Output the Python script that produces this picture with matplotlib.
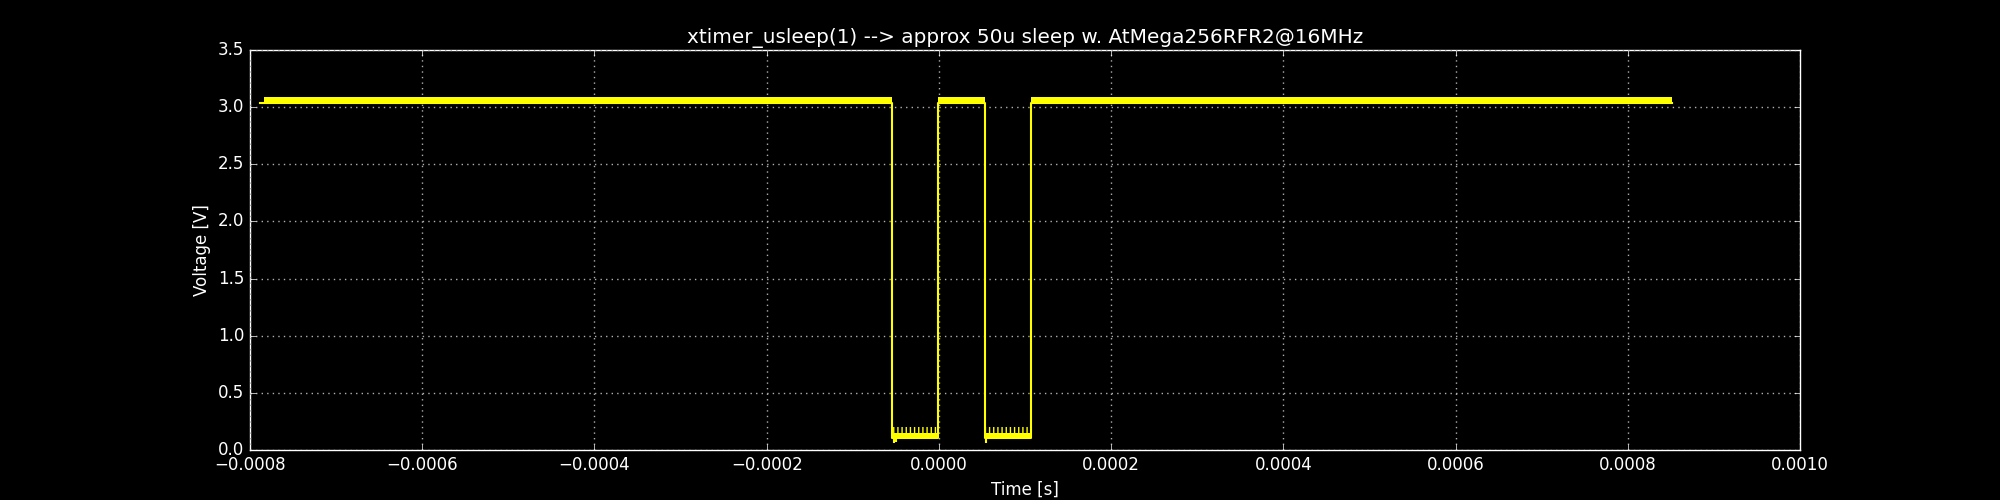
import matplotlib
matplotlib.use('Agg')
import matplotlib.pyplot as plt

seg_start = [-0.000788, -0.000784, -0.0000540, -0.0000011, 0.0000535, 0.0001064]
seg_end = [-0.000784, -0.0000540, -0.0000011, 0.0000535, 0.0001064, 0.000851]
seg_low = [3.035, 3.040, 0.108, 3.035, 0.108, 3.040]   # bottom of the noise band
seg_core = [3.035, 3.085, 0.150, 3.085, 0.150, 3.085]  # top of the solid band
seg_spike = [3.035, 3.090, 0.200, 3.090, 0.200, 3.090]  # tips of the noise spikes

# a few dropouts at the start of the low phases
dip_t = [-0.0000525, -0.0000495, 0.0000545]
dip_v = [0.065, 0.070, 0.065]

x_ticks = [-0.0008, -0.0006, -0.0004, -0.0002, 0.0, 0.0002, 0.0004, 0.0006, 0.0008, 0.0010]
y_ticks = [0.0, 0.5, 1.0, 1.5, 2.0, 2.5, 3.0, 3.5]

plt.style.use('classic')

fig = plt.figure(figsize=(20, 5), dpi=100, facecolor='black')
ax = fig.add_subplot(111, facecolor='black')

# trace: step line through the bottoms of the bands
tx, ty = [], []
for s, e, lo in zip(seg_start, seg_end, seg_low):
    tx += [s, e]
    ty += [lo, lo]
ax.plot(tx, ty, color='yellow', lw=1.5, zorder=3)

for s, e, lo, core, sp in zip(seg_start, seg_end, seg_low, seg_core, seg_spike):
    ax.fill_between([s, e], lo, core, color='yellow', lw=0, zorder=3)
    if sp > core:
        ax.fill_between([s, e], core, sp, facecolor='none', edgecolor='yellow',
                        hatch='||||', lw=0, zorder=3)

ax.vlines(dip_t, dip_v, 0.12, color='yellow', lw=1.5, zorder=3)

ax.set_xlim(-0.0008, 0.0010)
ax.set_ylim(0.0, 3.5)
ax.set_xticks(x_ticks)
ax.set_yticks(y_ticks)
ax.xaxis.set_major_formatter(matplotlib.ticker.FuncFormatter(
    lambda v, p: ('%.4f' % v).replace('-', '\u2212')))
ax.yaxis.set_major_formatter(matplotlib.ticker.FuncFormatter(lambda v, p: '%.1f' % v))

ax.grid(True, color='#b0b0b0', linestyle=':', linewidth=1)
for sp in ax.spines.values():
    sp.set_color('white')
ax.tick_params(colors='white', which='both', direction='in', top=True, right=True)

ax.set_title('xtimer_usleep(1) --> approx 50u sleep w. AtMega256RFR2@16MHz', color='white')
ax.set_xlabel('Time [s]', color='white')
ax.set_ylabel('Voltage [V]', color='white')

fig.subplots_adjust(left=0.125, right=0.9, bottom=0.1, top=0.9)
fig.savefig('out.png', dpi=100, facecolor='black')
